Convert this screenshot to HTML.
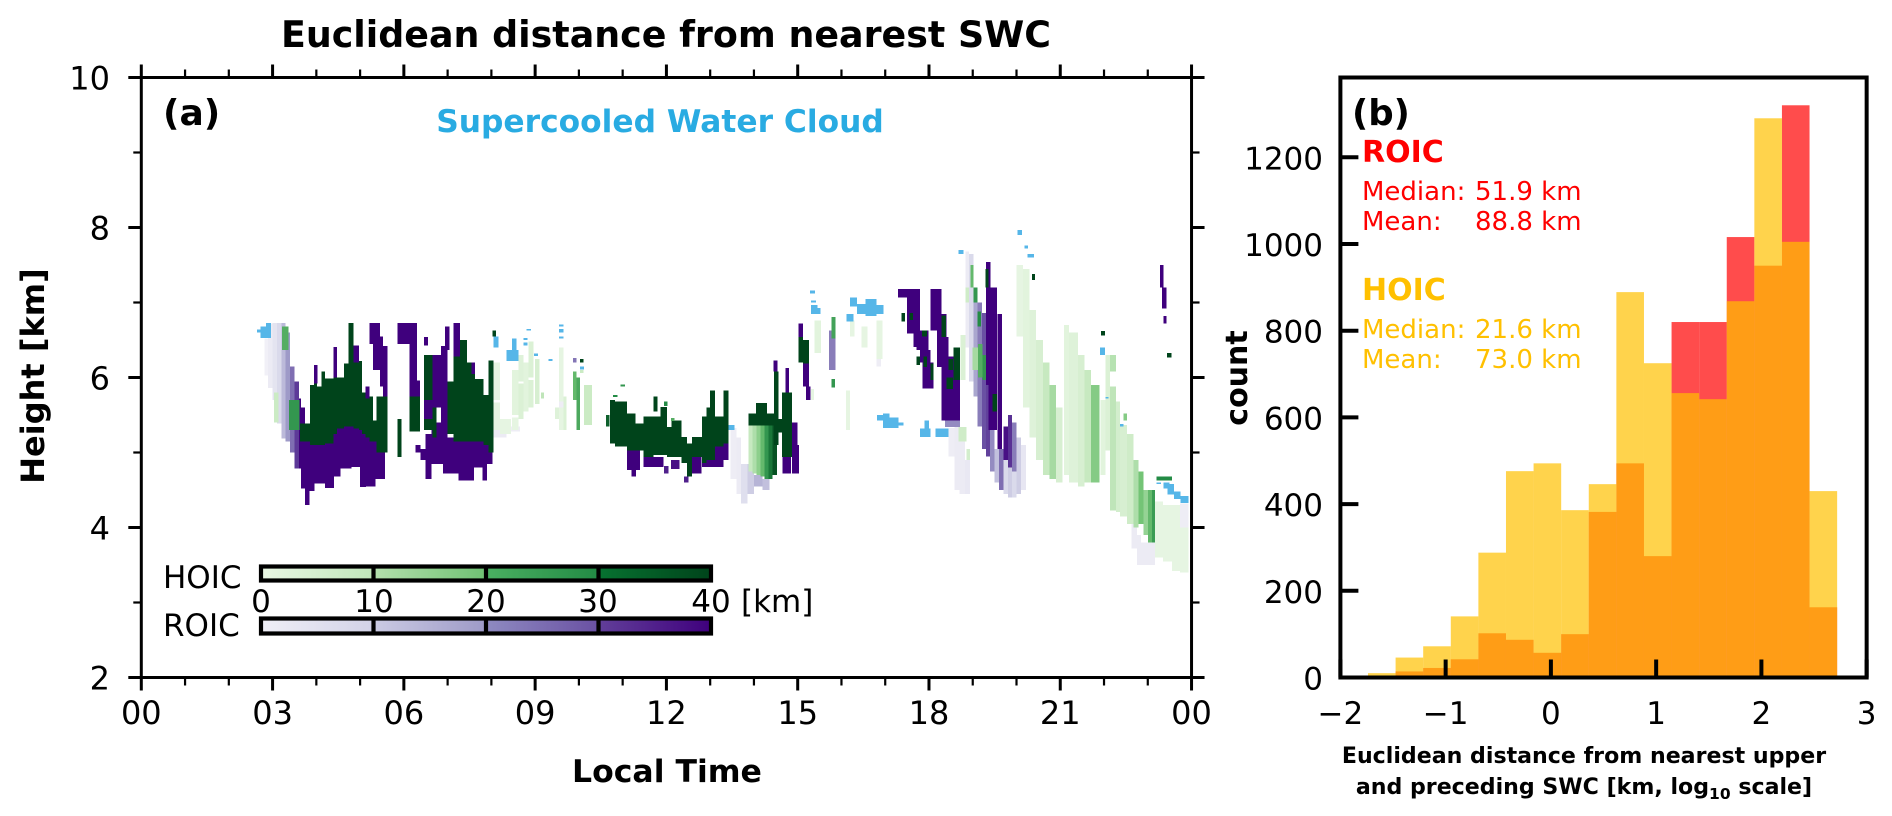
<!DOCTYPE html>
<html>
<head>
<meta charset="utf-8">
<style>
html,body{margin:0;padding:0;background:#fff;}
svg{display:block;}
text{font-family:"DejaVu Sans","Liberation Sans",sans-serif;}
</style>
</head>
<body>
<svg id="fig" xmlns="http://www.w3.org/2000/svg" width="1892" height="816" viewBox="0 0 1892 816">
<rect width="1892" height="816" fill="#fff"/>
<g id="cells"></g>
<g id="bars"></g>
<g id="axes"></g>
<text x="666" y="47" font-size="36.4" font-weight="bold" text-anchor="middle">Euclidean distance from nearest SWC</text>
<text x="163" y="125" font-size="36" font-weight="bold">(a)</text>
<text x="660" y="132" font-size="31.3" font-weight="bold" fill="#29abe2" text-anchor="middle">Supercooled Water Cloud</text>
<text x="0" y="0" transform="translate(44,376) rotate(-90)" font-size="32" font-weight="bold" text-anchor="middle">Height [km]</text>
<text x="667" y="782" font-size="31.5" font-weight="bold" text-anchor="middle">Local Time</text>
<text x="1352" y="125" font-size="35.5" font-weight="bold">(b)</text>
<text x="1362" y="162" font-size="30" font-weight="bold" fill="#ff0000">ROIC</text>
<text x="1362" y="200" font-size="26" fill="#ff0000">Median:</text>
<text x="1475" y="200" font-size="26" fill="#ff0000">51.9 km</text>
<text x="1362" y="230" font-size="26" fill="#ff0000">Mean:</text>
<text x="1475" y="230" font-size="26" fill="#ff0000">88.8 km</text>
<text x="1362" y="300" font-size="30" font-weight="bold" fill="#ffc000">HOIC</text>
<text x="1362" y="338" font-size="26" fill="#ffc000">Median:</text>
<text x="1475" y="338" font-size="26" fill="#ffc000">21.6 km</text>
<text x="1362" y="368" font-size="26" fill="#ffc000">Mean:</text>
<text x="1475" y="368" font-size="26" fill="#ffc000">73.0 km</text>
<text x="0" y="0" transform="translate(1247,378) rotate(-90)" font-size="30" font-weight="bold" text-anchor="middle">count</text>
<text x="1584" y="763" font-size="22.1" font-weight="bold" text-anchor="middle">Euclidean distance from nearest upper</text>
<text x="1584" y="794" font-size="22.1" font-weight="bold" text-anchor="middle">and preceding SWC [km, log<tspan font-size="15.5" dy="5">10</tspan><tspan dy="-5"> scale]</tspan></text>
<defs>
<linearGradient id="g1"><stop offset="0" stop-color="#e9f7e4"/><stop offset="1" stop-color="#c0e6ba"/></linearGradient>
<linearGradient id="g2"><stop offset="0" stop-color="#b4e0ad"/><stop offset="1" stop-color="#70c274"/></linearGradient>
<linearGradient id="g3"><stop offset="0" stop-color="#4bb062"/><stop offset="1" stop-color="#238b45"/></linearGradient>
<linearGradient id="g4"><stop offset="0" stop-color="#077331"/><stop offset="1" stop-color="#00441b"/></linearGradient>
<linearGradient id="p1"><stop offset="0" stop-color="#f0eff7"/><stop offset="1" stop-color="#d2d2e7"/></linearGradient>
<linearGradient id="p2"><stop offset="0" stop-color="#cbcbe3"/><stop offset="1" stop-color="#9e9ac8"/></linearGradient>
<linearGradient id="p3"><stop offset="0" stop-color="#8f8bc1"/><stop offset="1" stop-color="#6a51a3"/></linearGradient>
<linearGradient id="p4"><stop offset="0" stop-color="#62409a"/><stop offset="1" stop-color="#3f007d"/></linearGradient>
</defs>
<g>
<text x="163" y="588" font-size="31">HOIC</text>
<text x="163" y="636" font-size="31">ROIC</text>
<rect x="261" y="567" width="112" height="13" fill="url(#g1)"/>
<rect x="373" y="567" width="112" height="13" fill="url(#g2)"/>
<rect x="485" y="567" width="112" height="13" fill="url(#g3)"/>
<rect x="597" y="567" width="114" height="13" fill="url(#g4)"/>
<rect x="261" y="619" width="112" height="14" fill="url(#p1)"/>
<rect x="373" y="619" width="112" height="14" fill="url(#p2)"/>
<rect x="485" y="619" width="112" height="14" fill="url(#p3)"/>
<rect x="597" y="619" width="114" height="14" fill="url(#p4)"/>
<g stroke="#000" stroke-width="4.2" fill="none">
<rect x="261" y="566.5" width="450" height="14"/>
<rect x="261" y="618.5" width="450" height="15"/>
<path d="M373.5 566V581M486 566V581M598.5 566V581M373.5 618V634M486 618V634M598.5 618V634"/>
</g>
<g font-size="31" text-anchor="middle">
<text x="261" y="612">0</text>
<text x="374" y="612">10</text>
<text x="486" y="612">20</text>
<text x="598" y="612">30</text>
<text x="711" y="612">40</text>
</g>
<text x="741" y="612" font-size="31">[km]</text>
</g>
</svg>
<script>
// Panel (a): cells are [startHour, endHour, baseKm, topKm, distanceKm]
const roicCells = [
[2.81,2.90,6.03,6.52,1],[2.90,3.00,5.86,6.72,3],[3.00,3.10,5.70,6.73,6],[3.10,3.20,5.39,6.73,10],[3.20,3.30,5.19,6.73,15],
[3.30,3.40,5.15,6.60,20],[3.40,3.50,5.00,6.15,26],[3.50,3.60,4.79,5.95,33],[3.60,3.65,4.79,5.72,40],
[3.65,3.74,4.52,5.6,40],[3.74,3.84,4.30,5.2,40],[3.84,3.96,4.49,5.3,40],[3.96,4.2,4.59,5.4,40],[4.2,4.4,4.53,5.4,40],
[4.4,4.55,4.68,5.5,40],[4.55,4.8,4.79,5.5,40],[4.8,5.0,4.81,5.5,40],[5.0,5.13,4.54,5.4,40],[5.13,5.35,4.55,5.3,40],[5.35,5.57,4.65,5.2,40],
[3.95,4.03,5.92,6.17,40],[4.39,4.47,6.0,6.41,40],[4.85,4.97,6.2,6.43,40],[5.12,5.22,5.72,5.88,40],
[5.22,5.30,6.45,6.73,40],[5.30,5.45,6.1,6.73,40],[5.45,5.52,5.88,6.55,40],[5.52,5.63,5.75,6.42,40],
[5.85,6.13,6.45,6.73,40],[6.13,6.3,5.75,6.73,40],[6.3,6.37,5.75,5.96,40],
[6.46,6.55,6.43,6.54,40],[6.46,6.65,5.45,5.7,40],[6.65,6.85,5.6,6.3,40],[6.85,7.0,5.2,6.42,40],[6.94,7.04,6.37,6.68,40],[7.13,7.28,6.28,6.73,40],[7.55,7.63,6.05,6.2,40],
[4.0,4.07,5.55,5.72,40],[4.34,4.44,5.5,5.66,40],[4.2,4.28,5.8,5.9,40],[4.95,5.02,5.72,5.8,40],[7.1,7.2,5.75,5.95,40],
[6.27,6.38,5.0,5.1,40],[6.38,6.5,4.9,5.05,40],[6.5,6.63,4.65,5.25,40],[6.63,6.9,4.85,5.4,40],[6.9,7.25,4.72,5.2,40],[7.25,7.6,4.63,5.15,40],[7.6,7.8,4.8,5.15,40],[7.8,7.9,4.63,5.2,40],[7.9,8.03,4.85,5.2,40],
[8.05,8.35,5.2,5.3,3],[8.35,8.65,5.28,5.35,2],[9.86,9.95,6.2,6.26,25],[9.55,9.65,5.6,5.68,2],
[11.1,11.4,4.77,5.03,40],[11.2,11.3,4.68,4.77,40],[11.48,11.93,4.81,4.94,40],[11.95,12.05,4.72,4.82,36],[12.1,12.3,4.78,4.9,38],[12.4,12.5,4.6,4.68,36],[12.58,12.8,4.72,4.94,40],[12.81,13.11,4.81,4.9,40],[13.11,13.3,4.81,5.08,40],[13.3,13.42,4.9,5.12,40],
[13.46,13.6,4.65,5.33,2],[13.6,13.7,4.45,5.2,3],[13.7,13.85,4.32,4.85,8],[13.85,14.0,4.45,4.85,12],[14.0,14.2,4.55,4.7,16],[14.2,14.35,4.5,4.65,14],
[14.45,14.54,6.08,6.23,40],[14.87,15.0,4.72,5.4,40],[14.95,15.03,4.72,5.1,40],[14.65,14.85,4.72,4.94,40],[14.72,14.8,5.8,6.13,40],
[15.02,15.12,6.54,6.72,40],[15.12,15.26,5.88,6.19,40],[15.19,15.29,5.7,5.88,40],
[15.72,15.86,6.1,6.63,24],[16.8,16.9,6.15,6.25,2],
[17.29,17.5,7.07,7.18,40],[17.5,17.8,6.59,7.18,40],[17.65,17.8,6.41,6.86,40],[17.72,17.99,6.37,6.63,40],[17.8,18.03,6.2,6.37,40],[17.85,18.1,5.855,6.2,40],
[18.03,18.29,6.63,7.18,40],[18.18,18.4,6.54,6.85,40],[18.18,18.45,6.14,6.54,40],[18.29,18.56,5.88,6.28,40],[18.45,18.71,5.43,6.28,40],[18.29,18.71,5.43,5.97,40],[18.37,18.71,5.34,5.43,22],
[18.45,18.58,4.95,5.33,2],[18.58,18.7,4.5,5.34,3],[18.7,18.82,4.45,5.34,3],[18.82,18.94,4.45,4.9,4],
[18.83,18.92,6.4,7.68,3],[18.92,19.02,5.95,7.65,10],[19.02,19.11,5.75,7.15,18],[19.11,19.21,5.35,7.0,24],[19.21,19.3,5.05,6.86,30],
[19.3,19.4,4.95,5.9,32],[19.3,19.4,5.9,7.54,40],[19.36,19.56,5.3,7.2,40],[19.56,19.67,5.05,6.85,40],
[19.4,19.5,4.75,5.3,22],[19.5,19.6,4.6,5.05,14],[19.6,19.7,4.5,5.05,26],[19.7,19.8,4.45,4.9,10],[19.7,19.8,4.9,5.35,38],[19.8,19.9,4.4,4.8,12],[19.8,19.9,4.8,5.5,34],[19.9,20.0,4.4,4.75,10],[19.9,20.0,4.75,5.4,24],[20.0,20.1,4.45,5.2,12],[20.1,20.22,4.5,5.1,5],
[22.63,22.75,3.72,4.05,3],[22.75,22.85,3.5,3.9,3],[22.85,23.17,3.5,3.8,3],[22.72,22.85,4.2,4.5,8],[22.82,23.0,4.2,4.3,9],[23.74,23.93,4.0,4.32,2],
[23.28,23.36,7.2,7.5,40],[23.33,23.43,6.92,7.2,40],[23.36,23.43,6.72,6.82,40]
];
const hoicCells = [
[3.03,3.13,5.40,5.80,9],[3.21,3.36,6.37,6.68,24],[3.38,3.62,5.3,5.7,28],
[3.63,3.86,5.15,5.39,40],[3.86,3.95,5.1,5.9,40],[3.95,4.02,5.1,5.92,40],[4.02,4.12,5.1,5.88,40],[4.12,4.2,5.1,6.08,40],[4.2,4.39,5.12,5.99,40],
[4.39,4.47,5.25,6.0,40],[4.47,4.63,5.32,6.0,40],[4.63,4.73,5.35,6.19,40],[4.73,4.85,5.35,6.73,40],[4.85,4.97,5.32,6.2,40],[4.97,5.04,5.3,6.22,40],[5.04,5.12,5.25,5.8,40],[5.12,5.22,5.2,5.72,40],
[5.22,5.29,5.15,5.75,40],[5.29,5.38,5.15,5.43,40],[5.38,5.63,5.0,5.75,40],[5.85,5.95,4.94,5.45,40],[6.13,6.37,5.28,5.75,40],
[6.46,6.65,5.7,6.3,40],[6.46,6.65,5.3,5.45,40],[6.65,6.75,5.2,5.6,40],[7.0,7.13,5.25,5.95,40],[7.13,7.28,5.15,6.28,40],[7.28,7.44,5.15,6.5,40],[7.44,7.55,5.15,6.2,40],[7.55,7.63,5.15,6.05,40],[7.63,7.82,5.15,5.98,40],[7.82,7.93,5.1,5.77,40],[7.93,8.05,5.0,6.23,40],
[8.02,8.1,6.55,6.63,40],
[8.05,8.2,5.7,6.2,2],[8.05,8.2,5.3,5.67,2],[8.2,8.45,5.25,5.45,2],[8.47,8.62,5.5,6.1,3],[8.47,8.62,5.3,5.47,2],[8.62,8.73,5.95,6.3,4],[8.62,8.73,5.45,5.92,5],[8.73,8.85,5.55,6.2,3],[8.85,8.96,6.0,6.48,5],[8.85,8.96,5.6,5.97,5],[9.0,9.1,5.65,6.25,6],[9.13,9.2,5.72,5.8,11],
[9.55,9.65,5.68,6.4,2],[9.55,9.65,5.3,5.6,2],[9.65,9.72,5.3,5.75,5],[9.45,9.55,5.45,5.6,4],[9.86,9.95,5.7,6.08,22],[9.95,10.03,5.3,6.0,25],[10.12,10.3,5.37,5.9,9],[10.02,10.1,6.2,6.25,40],[10.02,10.1,6.06,6.1,9],
[10.71,10.83,5.12,5.7,40],[10.83,11.1,5.08,5.68,40],[11.1,11.29,5.03,5.52,40],[11.29,11.48,5.03,5.39,40],[11.48,11.7,4.94,5.48,40],[11.7,11.86,4.97,5.48,40],[11.86,12.01,4.97,5.61,40],[12.01,12.12,4.94,5.34,40],[12.12,12.35,4.94,5.43,40],[12.35,12.47,4.86,5.21,40],[12.47,12.58,4.68,5.12,40],[12.58,12.81,4.94,5.21,40],[12.81,12.92,4.86,5.48,40],[12.92,13.0,4.9,5.6,40],[13.0,13.11,4.9,5.83,40],[13.11,13.3,5.08,5.48,40],[13.3,13.42,5.12,5.83,40],
[11.7,11.8,5.55,5.75,40],[10.78,10.88,5.74,5.77,30],[10.95,11.05,5.88,5.91,28],[10.62,10.7,5.35,5.5,36],[11.95,12.03,5.62,5.68,30],[12.1,12.18,5.42,5.46,24],
[13.88,13.97,4.75,5.36,10],[13.97,14.06,4.72,5.36,13],[14.06,14.15,4.7,5.36,17],[14.15,14.24,4.68,5.36,22],[14.24,14.33,4.65,5.36,28],[14.33,14.42,4.65,5.36,33],[14.42,14.53,4.7,5.36,38],
[13.88,14.53,5.36,5.52,40],[14.05,14.3,5.52,5.66,40],[14.46,14.56,5.1,6.08,40],[14.53,14.64,5.27,5.45,40],[14.64,14.87,4.94,5.8,40],
[15.02,15.12,6.2,6.54,40],[15.12,15.26,6.19,6.5,40],
[15.38,15.53,6.33,6.76,3],[15.3,15.37,5.7,5.85,2],[15.77,15.86,6.52,6.81,26],[15.77,15.85,5.87,5.98,28],
[16.2,16.3,6.55,6.76,2],[16.46,16.6,6.4,6.68,2],[16.8,16.94,6.25,6.76,2],[16.1,16.2,5.3,5.83,2],
[17.37,17.45,6.75,6.86,40],[17.55,17.63,6.77,6.86,40],[17.84,17.95,6.55,6.63,40],[17.72,17.8,6.17,6.28,40],[17.88,17.95,6.14,6.28,40],[18.03,18.1,5.97,6.19,40],[18.29,18.39,6.54,6.83,40],[18.56,18.71,5.97,6.4,40],[18.45,18.55,6.1,6.25,40],[18.4,18.55,5.85,6.0,40],
[18.67,18.86,5.15,5.34,8],[18.86,18.94,4.9,5.05,7],[18.72,18.83,5.97,6.57,5],[18.83,18.92,7.0,7.2,8],
[19.0,19.12,6.1,6.4,14],[19.12,19.22,6.0,6.45,24],[19.22,19.3,5.97,6.3,28],[18.95,19.02,7.2,7.5,22],[19.02,19.11,7.0,7.2,28],[19.11,19.19,6.68,6.88,30],[19.29,19.36,7.2,7.45,40],[19.45,19.55,5.55,5.78,40],
[20.0,20.15,6.55,7.5,2],[20.15,20.3,5.6,7.45,3],[20.3,20.45,5.2,6.9,4],[20.45,20.6,4.9,6.5,6],[20.6,20.75,4.7,6.2,10],[20.75,20.9,4.65,5.9,14],[20.9,21.05,4.6,5.6,6],[20.35,20.42,7.3,7.38,40],
[21.08,21.2,4.7,6.7,3],[21.2,21.4,4.6,6.6,4],[21.4,21.55,4.55,6.3,6],[21.55,21.7,4.6,6.1,10],[21.7,21.9,4.6,5.9,18],[21.93,22.02,6.56,6.62,40],[21.92,22.03,4.7,5.7,3],
[22.03,22.14,5.03,6.3,5],[22.14,22.27,4.23,5.88,11],[22.14,22.27,6.08,6.3,12],[22.27,22.37,4.21,5.68,7],[22.37,22.52,4.15,5.37,6],[22.45,22.52,5.43,5.52,18],[22.52,22.67,4.05,5.25,8],[22.67,22.79,4.0,4.9,13],[22.79,22.9,4.05,4.75,20],[22.9,23.0,3.9,4.5,16],[23.0,23.1,3.8,4.5,22],[23.1,23.17,3.8,4.5,27],
[23.17,23.35,3.6,4.35,2],[23.35,23.55,3.55,4.3,2],[23.55,23.74,3.42,4.3,2],[23.74,23.93,3.4,4.0,2],[23.2,23.55,4.63,4.68,30],[23.44,23.54,6.27,6.33,40]
];
const swcCells = [
[2.64,2.72,6.6,6.64],[2.72,2.96,6.53,6.68],[2.85,2.96,6.68,6.73],
[8.05,8.16,6.4,6.55],[8.35,8.62,6.22,6.37],[8.47,8.57,6.37,6.52],[8.73,8.82,6.5,6.53],[8.73,8.83,6.43,6.47],[8.8,8.9,6.63,6.65],[8.97,9.06,6.29,6.32],[9.3,9.4,6.22,6.25],[9.55,9.65,6.68,6.71],[9.55,9.65,6.6,6.65],[9.55,9.65,6.52,6.55],[10.03,10.12,6.11,6.15],
[13.42,13.55,5.3,5.37],
[15.28,15.4,7.12,7.16],[15.3,15.42,7.0,7.03],[15.3,15.45,6.85,6.97],[15.43,15.52,6.85,6.93],
[16.2,16.35,6.95,7.07],[16.35,16.55,6.85,6.98],[16.55,16.8,6.82,7.05],[16.8,16.96,6.85,6.97],[16.12,16.28,6.75,6.85],
[16.81,16.95,5.43,5.5],[16.95,17.1,5.33,5.52],[17.1,17.3,5.33,5.47],[17.3,17.42,5.36,5.4],
[17.8,18.03,5.21,5.32],[17.9,18.0,5.32,5.43],[18.15,18.45,5.21,5.32],
[18.68,18.79,7.65,7.7],[20.02,20.12,7.9,7.97],[20.25,20.4,7.6,7.65],[20.18,20.26,7.72,7.76],
[21.91,22.02,6.3,6.4],[22.03,22.1,5.72,5.74],[22.37,22.45,5.35,5.38],
[23.2,23.3,4.58,4.6],[23.36,23.5,4.52,4.6],[23.45,23.6,4.44,4.58],[23.6,23.75,4.38,4.48],[23.75,23.93,4.33,4.42]
];
const hourTicks = [0,3,6,9,12,15,18,21,24];
const hourLabels = ['00','03','06','09','12','15','18','21','00'];
const hourMinorTicks = [1,2,4,5,7,8,10,11,13,14,16,17,19,20,22,23];
const heightTicks = [2,4,6,8,10];
const heightMinorTicks = [3,5,7,9];

// Panel (b): histogram
const binStart = -2;
const binWidth = 0.2622;
const roicCounts = [1,2,14,22,42,102,87,57,100,382,494,280,820,820,1016,950,1320,162];
const hoicCounts = [4,10,46,72,141,288,476,494,386,446,889,725,656,642,868,1290,1005,430];
const countTicks = [0,200,400,600,800,1000,1200];
const logTicks = [-2,-1,0,1,2,3];
const logLabels = ['\u22122','\u22121','0','1','2','3'];

const NS = 'http://www.w3.org/2000/svg';
const greenStops = [[238,248,234],[199,233,192],[116,196,118],[35,139,69],[0,68,27]];
const purpleStops = [[243,242,248],[218,218,235],[158,154,200],[106,81,163],[63,0,125]];
function ramp(stops, d) {
  const p = Math.max(0, Math.min(1, d / 40)) * (stops.length - 1);
  const i = Math.min(stops.length - 2, Math.floor(p));
  const f = p - i;
  const c = [0, 1, 2].map(k => Math.round(stops[i][k] + (stops[i + 1][k] - stops[i][k]) * f));
  return 'rgb(' + c.join(',') + ')';
}
const xA = h => 141.3 + h * 43.76;
const yA = k => 77.5 + (10 - k) * 75;
const xB = v => 1340.4 + (v + 2) * 105.25;
const yB = c => 677.5 - c * 0.4335;

const cellsG = document.getElementById('cells');
const barsG = document.getElementById('bars');
const axesG = document.getElementById('axes');

function addCell(r, fill, label) {
  const el = document.createElementNS(NS, 'rect');
  const x = xA(r[0]), y = yA(r[3]);
  el.setAttribute('x', x.toFixed(2));
  el.setAttribute('y', y.toFixed(2));
  el.setAttribute('width', (xA(r[1]) - x).toFixed(2));
  el.setAttribute('height', (yA(r[2]) - y).toFixed(2));
  el.setAttribute('fill', fill);
  el.setAttribute('shape-rendering', 'crispEdges');
  
  
  cellsG.appendChild(el);
}
roicCells.forEach(r => addCell(r, ramp(purpleStops, r[4]), 'roic-cell'));
hoicCells.forEach(r => addCell(r, ramp(greenStops, r[4]), 'hoic-cell'));
swcCells.forEach(r => addCell(r, '#56b6e8', 'swc-cell'));

function addBar(i, c, fill, label) {
  const el = document.createElementNS(NS, 'rect');
  const x0 = xB(binStart + i * binWidth), x1 = xB(binStart + (i + 1) * binWidth);
  el.setAttribute('x', x0.toFixed(2));
  el.setAttribute('y', yB(c).toFixed(2));
  el.setAttribute('width', (x1 - x0).toFixed(2));
  el.setAttribute('height', (yB(0) - yB(c)).toFixed(2));
  el.setAttribute('fill', fill);
  el.setAttribute('fill-opacity', '0.7');
  
  
  barsG.appendChild(el);
}
roicCounts.forEach((c, i) => addBar(i, c, '#ff0000', 'roic-bar'));
hoicCounts.forEach((c, i) => addBar(i, c, '#ffc000', 'hoic-bar'));

function addLine(x1, y1, x2, y2, w, label) {
  const el = document.createElementNS(NS, 'line');
  el.setAttribute('x1', x1);
  el.setAttribute('y1', y1);
  el.setAttribute('x2', x2);
  el.setAttribute('y2', y2);
  el.setAttribute('stroke', '#000');
  el.setAttribute('stroke-width', w);
  
  
  axesG.appendChild(el);
}
function addText(x, y, s, size, anchor, label) {
  const el = document.createElementNS(NS, 'text');
  el.setAttribute('x', x);
  el.setAttribute('y', y);
  el.setAttribute('font-size', size);
  el.setAttribute('text-anchor', anchor);
  
  
  el.textContent = s;
  axesG.appendChild(el);
}
const aL = xA(0), aR = xA(24), aT = yA(10), aB = yA(2);
addLine(aL, aT, aR, aT, 3, 'panel-a-top-spine');
addLine(aL, aB, aR, aB, 3, 'panel-a-bottom-spine');
addLine(aL, aT - 1, aL, aB + 1, 3, 'panel-a-left-spine');
addLine(aR, aT - 1, aR, aB + 1, 3, 'panel-a-right-spine');
hourTicks.forEach((h, i) => {
  addLine(xA(h), aB, xA(h), aB + 13, 3, 'x-major-tick');
  addLine(xA(h), aT, xA(h), aT - 13, 3, 'x-major-tick-top');
  addText(xA(h), 724, hourLabels[i], 32, 'middle', 'x-tick-label');
});
hourMinorTicks.forEach(h => {
  addLine(xA(h), aB, xA(h), aB + 8, 2.2, 'x-minor-tick');
  addLine(xA(h), aT, xA(h), aT - 8, 2.2, 'x-minor-tick-top');
});
heightTicks.forEach(k => {
  addLine(aL, yA(k), aL - 13, yA(k), 3, 'y-major-tick');
  addLine(aR, yA(k), aR + 13, yA(k), 3, 'y-major-tick-right');
  addText(110, yA(k) + 12, String(k), 32, 'end', 'y-tick-label');
});
heightMinorTicks.forEach(k => {
  addLine(aL, yA(k), aL - 8, yA(k), 2.2, 'y-minor-tick');
  addLine(aR, yA(k), aR + 8, yA(k), 2.2, 'y-minor-tick-right');
});

const bL = xB(-2), bR = xB(3), bT = 77.5, bB = yB(0);
addLine(bL, bT - 2, bL, bB + 2, 4, 'panel-b-left-spine');
addLine(bR, bT - 2, bR, bB + 2, 4, 'panel-b-right-spine');
addLine(bL, bT, bR, bT, 4, 'panel-b-top-spine');
addLine(bL, bB, bR, bB, 4, 'panel-b-bottom-spine');
countTicks.forEach(c => {
  addLine(bL, yB(c), bL + 18, yB(c), 4, 'count-tick');
  addText(1323, yB(c) + 12, String(c), 31, 'end', 'count-tick-label');
});
logTicks.forEach((v, i) => {
  addLine(xB(v), bB, xB(v), bB - 18, 4, 'log-distance-tick');
  addText(xB(v), 724, logLabels[i], 31, 'middle', 'log-distance-tick-label');
});
</script>
</body>
</html>
